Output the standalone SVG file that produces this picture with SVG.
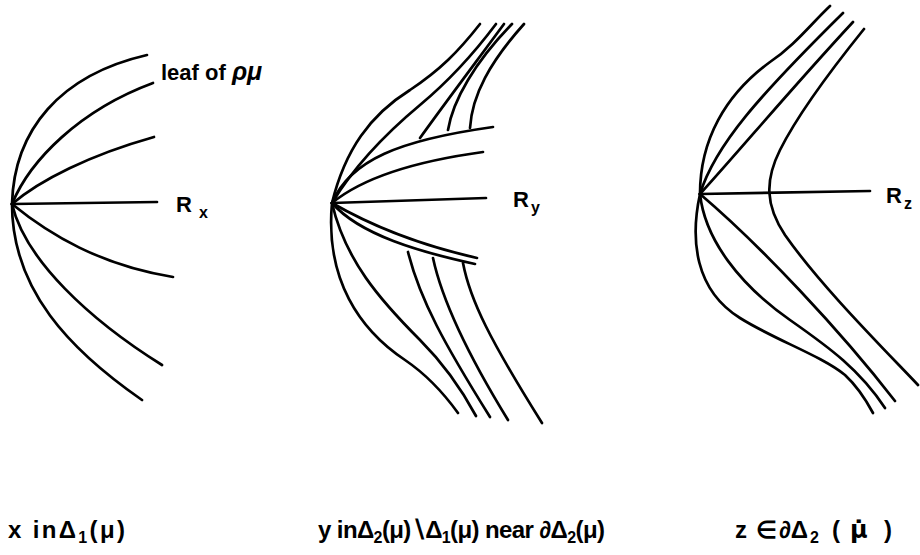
<svg xmlns="http://www.w3.org/2000/svg" width="920" height="555" viewBox="0 0 920 555">
<style>
.lf{fill:none;stroke:#000;stroke-width:2.7;stroke-linecap:round;stroke-linejoin:round}
.t{font-family:"Liberation Sans",Arial,sans-serif;font-weight:bold;font-size:22px;fill:#000}
.cap{font-size:24px}
.sub{font-size:16px}
.dj{font-family:"DejaVu Sans",sans-serif}
</style>
<rect width="920" height="555" fill="#fff"/>
<g id="panel-x">
<path class="lf" d="M12,204 C14,130 60,75 147,55"/>
<path class="lf" d="M12,204 C30,160 80,110 153,83"/>
<path class="lf" d="M12,204 C40,180 90,155 154,137"/>
<path class="lf" d="M12,204 L157,202"/>
<path class="lf" d="M12,204 C50,235 100,265 173,277"/>
<path class="lf" d="M12,204 C25,260 90,320 162,365"/>
<path class="lf" d="M12,204 C12,290 70,350 142,400"/>
<text class="t" x="161" y="80">leaf of <tspan font-style="italic" font-size="25">ρμ</tspan></text>
<text class="t" x="176" y="212" font-size="23">R<tspan class="sub" x="199" y="218">x</tspan></text>
</g>
<g id="panel-y">
<path class="lf" d="M332,203 C345,150 370,115 410,90 C440,70 458,52 480,24"/>
<path class="lf" d="M332,203 C355,165 390,130 420,105 C450,80 475,52 496,24"/>
<path class="lf" d="M420,138 C440,110 470,70 504,24"/>
<path class="lf" d="M448,130 C453,100 475,62 512,24"/>
<path class="lf" d="M470,128 C472,95 490,62 524,24"/>
<path class="lf" d="M332,203 C350,160 400,140 493,127"/>
<path class="lf" d="M332,203 C360,180 410,162 483,152"/>
<path class="lf" d="M332,203 L486,198"/>
<path class="lf" d="M332,203 C370,225 420,245 477,258"/>
<path class="lf" d="M332,203 C360,235 420,252 475,264"/>
<path class="lf" d="M332,203 C325,280 360,330 405,360 C430,377 445,395 458,413"/>
<path class="lf" d="M332,203 C345,260 380,300 420,340 C445,365 462,390 476,416"/>
<path class="lf" d="M408,252 C420,300 445,345 490,417"/>
<path class="lf" d="M433,258 C442,300 465,350 508,420"/>
<path class="lf" d="M463,263 C470,300 490,340 542,423"/>
<text class="t" x="513" y="207" font-size="23">R<tspan class="sub" x="531" y="213">y</tspan></text>
</g>
<g id="panel-z">
<path class="lf" d="M700,194 C700,140 725,95 770,62 C795,45 810,25 830,6"/>
<path class="lf" d="M700,194 C715,145 760,95 843,13"/>
<path class="lf" d="M700,194 C740,150 790,90 853,22"/>
<path class="lf" d="M864,29 C835,65 800,110 780,150 C765,180 765,205 785,235 C820,285 880,345 918,385"/>
<path class="lf" d="M700,194 L870,191"/>
<path class="lf" d="M700,194 C760,245 840,330 895,401"/>
<path class="lf" d="M700,194 C705,240 740,285 790,320 C830,348 860,370 885,408"/>
<path class="lf" d="M700,194 C690,240 695,290 740,318 C775,340 820,355 845,375 C858,387 866,400 873,413"/>
<text class="t" x="886" y="203" font-size="23">R<tspan class="sub" x="904" y="209">z</tspan></text>
</g>
<g id="captions">
<text class="t cap" x="8" y="538" textLength="117" lengthAdjust="spacing">x in<tspan>Δ</tspan><tspan class="sub" dy="5">1</tspan><tspan dy="-5">(μ)</tspan></text>
<text class="t cap" x="318" y="538" textLength="287" lengthAdjust="spacing">y in<tspan>Δ</tspan><tspan class="sub" dy="5">2</tspan><tspan dy="-5">(μ)∖Δ</tspan><tspan class="sub" dy="5">1</tspan><tspan dy="-5">(μ) near ∂Δ</tspan><tspan class="sub" dy="5">2</tspan><tspan dy="-5">(μ)</tspan></text>
<text class="t cap" x="735" y="538">z<tspan x="756">∈</tspan><tspan x="779">∂Δ</tspan><tspan class="sub" x="810" dy="5">2</tspan><tspan x="832" dy="-5">(</tspan><tspan class="dj" x="850" font-weight="bold">μ̇</tspan><tspan x="884">)</tspan></text>
</g>
</svg>
